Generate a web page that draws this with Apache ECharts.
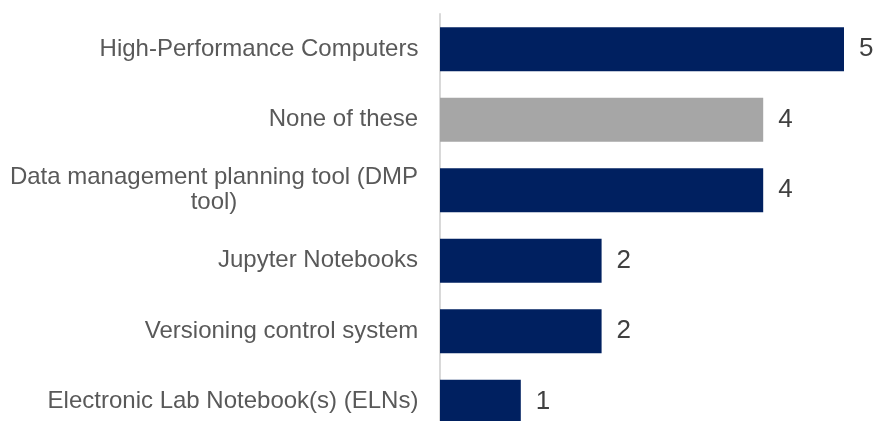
<!DOCTYPE html>
<html>
<head>
<meta charset="utf-8">
<script src="https://cdn.jsdelivr.net/npm/echarts@6/dist/echarts.min.js"></script>
<style>
html,body{margin:0;padding:0;background:#fff;overflow:hidden;}
#chart{width:877px;height:421px;}
</style>
</head>
<body>
<div id="chart"></div>
<script>
// Categories listed bottom-to-top (ECharts category y-axis starts at bottom)
var categories = [
  "Electronic Lab Notebook(s) (ELNs)",
  "Versioning control system",
  "Jupyter Notebooks",
  "Data management planning tool (DMP tool)",
  "None of these",
  "High-Performance Computers"
];
var values = [1, 2, 2, 4, 4, 5];
var highlightCategory = "None of these";

var navy = "#002060";
var gray = "#a6a6a6";
var labelFamily = '"Liberation Sans", Arial, sans-serif';
var labelSize = 24;

// word-wrap a label to a max pixel width; lines are centred within the block
var measureCtx = document.createElement('canvas').getContext('2d');
measureCtx.font = labelSize + 'px ' + labelFamily;
function wrapLines(text, maxW) {
  var words = text.split(' ');
  var lines = [];
  var cur = '';
  words.forEach(function (w) {
    var test = cur ? cur + ' ' + w : w;
    if (cur && measureCtx.measureText(test).width > maxW) {
      lines.push(cur);
      cur = w;
    } else {
      cur = test;
    }
  });
  if (cur) lines.push(cur);
  return lines;
}
var rich = {};
var wrapped = categories.map(function (c, i) {
  var lines = wrapLines(c, 420);
  var w = Math.max.apply(null, lines.map(function (l) { return measureCtx.measureText(l).width; }));
  rich['l' + i] = {
    width: Math.ceil(w) + 1, align: 'center',
    fontSize: labelSize, fontFamily: labelFamily, color: '#595959', lineHeight: 25
  };
  return lines.map(function (l) { return '{l' + i + '|' + l + '}'; }).join('\n');
});

var chart = echarts.init(document.getElementById('chart'));
chart.setOption({
  animation: false,
  grid: { left: 440, right: 33, top: 14, height: 423, containLabel: false, outerBoundsMode: 'none' },
  xAxis: {
    type: 'value', min: 0, max: 5,
    show: false
  },
  yAxis: {
    type: 'category',
    data: categories,
    axisLine: { show: true, lineStyle: { color: '#d9d9d9', width: 2 } },
    axisTick: { show: false },
    axisLabel: {
      margin: 21,
      color: '#595959',
      fontSize: labelSize,
      fontFamily: labelFamily,
      lineHeight: 25,
      align: 'right',
      rich: rich,
      formatter: function (v, idx) { return wrapped[categories.indexOf(v)]; }
    }
  },
  series: [{
    type: 'bar',
    barWidth: 44,
    data: values.map(function (v, i) {
      return {
        value: v,
        itemStyle: { color: categories[i] === highlightCategory ? gray : navy }
      };
    }),
    label: {
      show: true,
      position: 'right',
      distance: 15,
      color: '#404040',
      fontSize: 26,
      fontFamily: labelFamily
    }
  }]
});
</script>
</body>
</html>
